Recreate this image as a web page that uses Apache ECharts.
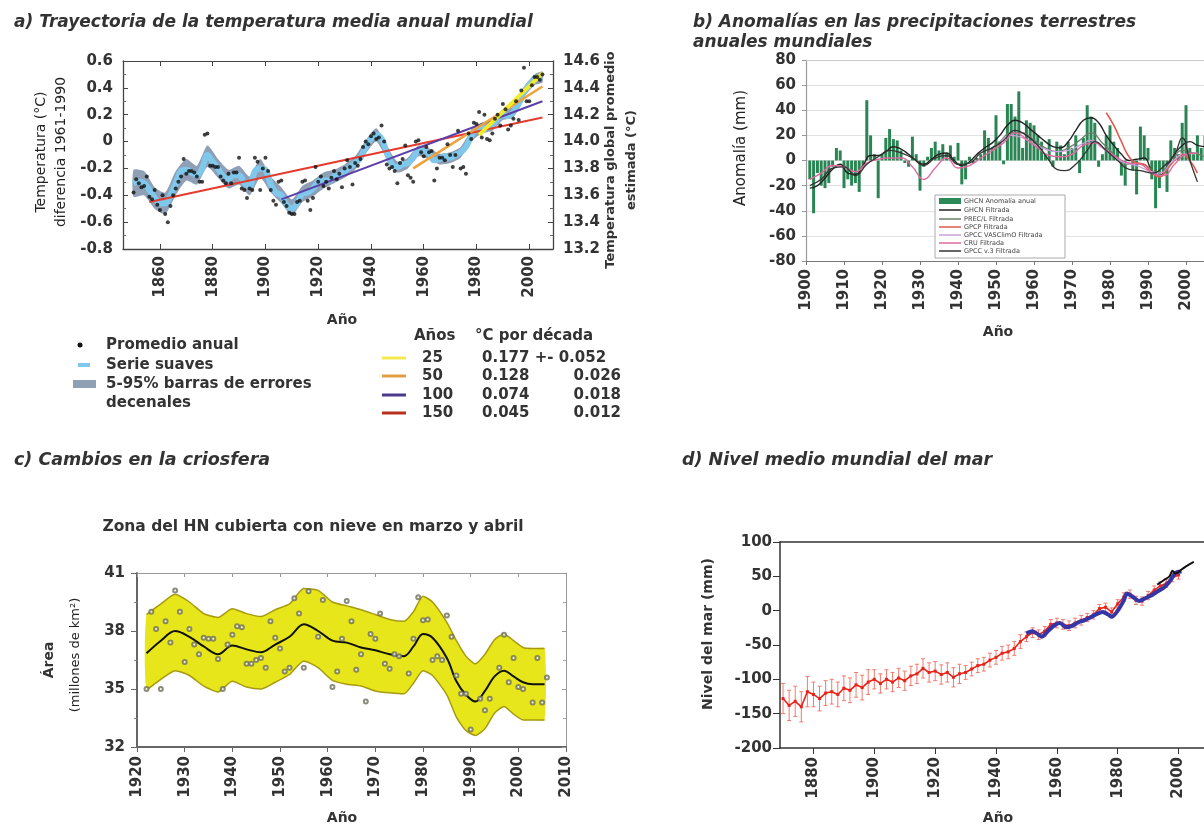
<!DOCTYPE html>
<html><head><meta charset="utf-8">
<script src="https://cdn.jsdelivr.net/npm/echarts@6/dist/echarts.min.js"></script>
<style>html,body{margin:0;padding:0;background:#fff;overflow:hidden}#c{width:1204px;height:826px}</style>
</head><body><div id="c"></div><script>
// ---------- a) temperature ----------
const tempStartYear = 1850;
const tempAnnual = [
-0.38,-0.28,-0.31,-0.34,-0.33,-0.26,-0.41,-0.43,-0.36,-0.47,
-0.51,-0.40,-0.54,-0.60,-0.48,-0.40,-0.35,-0.30,-0.26,-0.13,
-0.24,-0.22,-0.22,-0.23,-0.26,-0.30,-0.30,0.05,0.06,-0.18,
-0.18,-0.19,-0.19,-0.26,-0.29,-0.31,-0.24,-0.31,-0.23,-0.23,
-0.12,-0.35,-0.36,-0.42,-0.35,-0.36,-0.12,-0.15,-0.36,-0.20,
-0.12,-0.22,-0.36,-0.44,-0.47,-0.30,-0.29,-0.45,-0.48,-0.53,
-0.54,-0.54,-0.45,-0.44,-0.30,-0.29,-0.44,-0.51,-0.42,-0.19,
-0.30,-0.26,-0.33,-0.30,-0.35,-0.27,-0.22,-0.28,-0.24,-0.34,
-0.20,-0.14,-0.19,-0.32,-0.16,-0.18,-0.13,-0.04,0.00,-0.02,
0.04,0.06,0.02,0.03,0.12,0.00,-0.17,-0.20,-0.19,-0.22,
-0.31,-0.16,-0.13,-0.03,-0.25,-0.27,-0.30,0.00,0.01,-0.08,
-0.11,-0.04,-0.08,-0.07,-0.29,-0.20,-0.12,-0.12,-0.14,-0.02,
-0.10,-0.19,-0.10,0.08,-0.20,-0.19,-0.24,0.06,0.02,0.14,
0.13,0.22,0.03,0.20,0.02,0.01,0.06,0.17,0.20,0.12,
0.28,0.24,0.09,0.12,0.17,0.30,0.16,0.38,0.55,0.30,
0.30,0.42,0.48,0.48,0.46,0.50];
const tempSmoothYears = [1850,1852,1854,1856,1858,1860,1862,1864,1866,1868,1870,1872,1874,1876,1878,1880,1882,1884,1886,1888,1890,1892,1894,1896,1898,1900,1902,1904,1906,1908,1910,1912,1914,1916,1918,1920,1922,1924,1926,1928,1930,1932,1934,1936,1938,1940,1942,1944,1946,1948,1950,1952,1954,1956,1958,1960,1962,1964,1966,1968,1970,1972,1974,1976,1978,1980,1982,1984,1986,1988,1990,1992,1994,1996,1998,2000,2002,2004,2005];
const tempSmooth = [-0.31,-0.30,-0.31,-0.36,-0.42,-0.46,-0.46,-0.40,-0.31,-0.22,-0.21,-0.23,-0.25,-0.20,-0.10,-0.15,-0.20,-0.26,-0.28,-0.25,-0.25,-0.31,-0.33,-0.22,-0.20,-0.21,-0.32,-0.38,-0.40,-0.47,-0.50,-0.46,-0.39,-0.38,-0.35,-0.30,-0.29,-0.29,-0.26,-0.25,-0.22,-0.19,-0.16,-0.12,-0.04,0.02,0.05,0.02,-0.08,-0.17,-0.19,-0.17,-0.16,-0.12,-0.07,-0.07,-0.09,-0.14,-0.13,-0.11,-0.12,-0.10,-0.08,-0.04,0.04,0.10,0.10,0.10,0.12,0.17,0.20,0.19,0.22,0.28,0.37,0.42,0.46,0.48,0.48];
const tempBandYears = [1850,1854,1858,1862,1866,1870,1874,1878,1882,1886,1890,1894,1898,1902,1906,1910,1914,1918,1922,1926,1930,1934,1938,1942,1946,1950,1954,1958,1962,1966,1970,1974,1978,1982,1986,1990,1994,1998,2002,2005];
const tempBandLow  = [-0.41,-0.40,-0.50,-0.54,-0.40,-0.29,-0.32,-0.19,-0.27,-0.35,-0.32,-0.40,-0.27,-0.38,-0.46,-0.55,-0.45,-0.41,-0.35,-0.31,-0.27,-0.21,-0.09,0.00,-0.13,-0.23,-0.20,-0.11,-0.13,-0.17,-0.16,-0.12,0.00,0.06,0.08,0.16,0.18,0.33,0.42,0.44];
const tempBandHigh = [-0.21,-0.22,-0.34,-0.38,-0.22,-0.13,-0.18,-0.03,-0.13,-0.21,-0.18,-0.26,-0.13,-0.26,-0.34,-0.43,-0.33,-0.29,-0.23,-0.21,-0.17,-0.11,0.01,0.10,-0.03,-0.15,-0.12,-0.03,-0.05,-0.09,-0.08,-0.04,0.08,0.14,0.16,0.24,0.26,0.41,0.50,0.52];
const trend150 = [[1856,-0.45],[2005,0.18]];
const trend100 = [[1906,-0.43],[2005,0.30]];
const trend50  = [[1956,-0.20],[2005,0.41]];
const trend25  = [[1981,0.05],[2005,0.51]];
const tempYearTicks = [1860,1880,1900,1920,1940,1960,1980,2000];
const trendTable = [['25','0.177 +- 0.052',''],['50','0.128','0.026'],['100','0.074','0.018'],['150','0.045','0.012']];

// ---------- b) precipitation ----------
const precipStartYear = 1901;
const precipAnom = [-15,-42,-10,-20,-22,-18,-5,10,8,-22,
-15,-20,-18,-25,-5,48,20,5,-30,5,
18,25,17,16,8,-2,-5,19,5,-24,
-5,3,10,15,8,13,6,12,3,14,
-19,-15,3,-2,2,5,24,18,10,36,
15,-3,45,45,35,55,10,32,30,28,
20,15,5,17,-5,15,12,5,15,10,
20,-10,18,44,35,30,-5,5,20,28,
15,10,-12,-20,0,-8,-27,27,20,10,
-15,-38,-22,-10,-25,16,10,5,30,44,
10,5,20,10,20];
const ghcnFilt = [[1901,-22],[1903,-20],[1905,-14],[1907,-7],[1909,-3],[1911,-10],[1913,-11],[1915,-4],[1917,4],[1919,4],[1921,7],[1923,11],[1925,9],[1927,5],[1929,0],[1931,-3],[1933,1],[1935,5],[1937,6],[1939,0],[1941,-4],[1943,-1],[1945,5],[1947,10],[1949,14],[1951,20],[1953,28],[1955,32],[1957,30],[1959,25],[1961,20],[1963,15],[1965,11],[1967,10],[1969,15],[1971,24],[1973,32],[1975,34],[1977,30],[1979,20],[1981,12],[1983,5],[1985,0],[1987,1],[1989,2],[1991,-8],[1993,-12],[1995,-5],[1997,5],[1999,12],[2001,15],[2003,12],[2005,11]];
const precLFilt = [[1948,8],[1951,15],[1954,22],[1957,22],[1960,16],[1963,10],[1966,7],[1969,10],[1972,16],[1975,22],[1978,14],[1981,5],[1984,-3],[1987,-2],[1990,-5],[1993,-12],[1996,-3],[1999,8],[2002,6],[2005,3]];
const gpcpFilt = [[1979,38],[1981,28],[1983,15],[1985,3],[1987,-2],[1989,-3],[1991,-10],[1993,-13],[1995,-7],[1997,0],[1999,5],[2001,0],[2003,-10]];
const vasclimoFilt = [[1951,14],[1954,20],[1957,18],[1960,13],[1963,9],[1966,7],[1969,8],[1972,12],[1975,16],[1978,10],[1981,3],[1984,-2],[1987,-4],[1990,-8],[1993,-10],[1996,-2],[1999,6]];
const cruFilt = [[1901,-15],[1904,-10],[1907,-4],[1910,-5],[1913,-9],[1916,-2],[1919,1],[1922,2],[1925,2],[1928,-5],[1931,-15],[1934,-6],[1937,2],[1940,-6],[1943,-4],[1946,2],[1949,8],[1952,14],[1955,22],[1958,17],[1961,10],[1964,4],[1967,3],[1970,5],[1973,12],[1976,14],[1979,8],[1982,2],[1985,-2],[1988,-3],[1991,-10],[1994,-12],[1997,-3],[2000,5],[2003,6]];
const gpccV3Filt = [[1901,-20],[1904,-15],[1907,-6],[1910,-5],[1913,-12],[1916,-3],[1919,3],[1922,8],[1925,6],[1928,2],[1931,-4],[1934,2],[1937,4],[1940,-3],[1943,-2],[1946,6],[1949,10],[1952,16],[1955,24],[1958,20],[1961,12],[1964,0],[1966,-7],[1968,-8],[1971,-3],[1974,8],[1976,15],[1979,8],[1982,0],[1985,-7],[1988,-8],[1991,-10],[1994,-5],[1997,5],[1999,18],[2001,0],[2003,-17]];
const precipLegend = ['GHCN Anomalía anual','GHCN Filtrada','PREC/L Filtrada','GPCP Filtrada','GPCC VASClimO Filtrada','CRU Filtrada','GPCC v.3 Filtrada'];

// ---------- c) snow cover ----------
const snowYears = [1922,1923,1924,1925,1926,1927,1928,1929,1930,1931,1932,1933,1934,1935,1936,1937,1938,1939,1940,1941,1942,1943,1944,1945,1946,1947,1948,1949,1950,1951,1952,1953,1954,1955,1956,1958,1959,1961,1962,1963,1964,1965,1966,1967,1968,1969,1970,1971,1972,1973,1974,1975,1977,1978,1979,1980,1981,1982,1983,1984,1985,1986,1987,1988,1989,1990,1992,1993,1994,1996,1997,1998,1999,2000,2001,2003,2004,2005,2006];
const snowArea  = [35.0,39.0,38.1,35.0,38.5,37.4,40.1,39.0,36.4,38.1,37.3,36.8,37.65,37.6,37.6,36.55,35.0,37.3,37.8,38.25,38.2,36.3,36.3,36.5,36.6,36.1,38.5,37.65,37.1,35.9,36.1,39.7,38.9,36.1,40.05,37.7,39.6,35.1,35.9,37.6,39.55,38.5,36.0,36.8,34.35,37.85,37.6,38.9,36.3,36.05,36.8,36.7,35.8,37.6,39.75,38.55,38.6,36.5,36.7,36.5,38.8,37.7,35.7,34.75,34.75,32.9,34.5,33.9,34.5,36.1,37.8,35.35,36.6,35.1,35.0,34.3,36.6,34.3,35.6];
const snowSmoothYears = [1922,1925,1928,1931,1934,1937,1940,1943,1946,1949,1952,1955,1958,1961,1964,1967,1970,1973,1976,1978,1980,1982,1985,1987,1989,1991,1993,1995,1997,1999,2001,2003,2005.5];
const snowSmooth = [36.85,37.5,38.0,37.7,37.2,36.8,37.25,37.05,36.9,37.3,37.7,38.35,38.0,37.5,37.4,37.15,37.0,36.8,36.7,37.2,37.85,37.65,36.6,35.4,34.7,34.35,34.9,35.65,35.95,35.65,35.35,35.25,35.25];
const snowHigh = [38.85,39.4,39.9,39.5,38.9,38.7,39.15,38.9,38.75,39.1,39.4,40.2,40.1,39.5,39.3,39.1,38.85,38.6,38.5,39.0,39.8,39.5,38.45,37.5,36.7,36.3,36.8,37.55,37.85,37.5,37.15,37.1,37.1];
const snowLow  = [34.95,35.5,35.95,35.7,35.15,34.85,35.4,35.1,35.0,35.35,35.75,36.45,36.1,35.45,35.25,35.15,34.9,34.8,34.75,35.3,35.95,35.7,34.7,33.55,32.85,32.6,32.95,33.75,34.1,33.7,33.4,33.4,33.4];

// ---------- d) sea level ----------
const seaYears = [1870,1872,1874,1876,1878,1880,1882,1884,1886,1888,1890,1892,1894,1896,1898,1900,1902,1904,1906,1908,1910,1912,1914,1916,1918,1920,1922,1924,1926,1928,1930,1932,1934,1936,1938,1940,1942,1944,1946,1948,1950,1952,1954,1956,1958,1960,1962,1964,1966,1968,1970,1972,1974,1976,1978,1980,1982,1984,1986,1988,1990,1992,1994,1996,1998,2000];
const seaLevel = [-128,-138,-132,-140,-118,-122,-128,-120,-118,-122,-113,-116,-108,-112,-104,-100,-106,-100,-104,-98,-102,-95,-92,-84,-90,-88,-93,-90,-97,-92,-90,-85,-80,-78,-72,-68,-62,-60,-55,-45,-38,-32,-35,-30,-20,-18,-20,-22,-18,-14,-10,-6,3,5,-2,10,20,24,15,14,22,30,36,40,48,52];
const seaErr = [22,22,22,22,22,18,18,18,18,18,18,18,18,18,18,14,14,14,14,14,14,14,14,14,14,14,14,14,14,14,10,10,10,10,10,10,10,10,10,10,7,7,7,7,7,7,7,7,7,7,6,6,6,6,6,6,6,6,6,6,6,6,6,6,6,6];
const tideGauge = [[1950,-33],[1952,-30],[1954,-35],[1955,-38],[1957,-30],[1959,-22],[1961,-18],[1963,-24],[1965,-22],[1967,-17],[1969,-14],[1971,-10],[1973,-5],[1975,-2],[1977,-6],[1978,-9],[1980,0],[1982,15],[1983,25],[1985,20],[1987,14],[1989,18],[1991,22],[1993,28],[1995,33],[1997,42],[1999,55],[2001,57]];
const satellite = [[1993,38],[1995,44],[1997,50],[1998,58],[1999,54],[2001,60],[2003,66],[2005,71]];
const seaYearTicks = [1880,1900,1920,1940,1960,1980,2000];

// ---------- build ----------
const FF = 'DejaVu Sans';
const tickFont = {fontFamily: FF, fontWeight: 'bold', fontSize: 15, color: '#333'};
const yearFmt = v => String(Math.round(v));
const tempDots = tempAnnual.map((v, i) => [tempStartYear + i, v]);
const tempSm = tempSmoothYears.map((y, i) => [y, tempSmooth[i]]);
const tempBand = tempBandYears.map((y, i) => [y, tempBandLow[i], tempBandHigh[i]]);
const precipBars = precipAnom.map((v, i) => [precipStartYear + i, v]);
const snowPts = snowYears.map((y, i) => [y, snowArea[i]]);
const snowSm = snowSmoothYears.map((y, i) => [y, snowSmooth[i]]);
const snowLo = snowSmoothYears.map((y, i) => [y, snowLow[i]]);
const snowHi = snowSmoothYears.map((y, i) => [y, snowHigh[i]]);
const snowBand = snowSmoothYears.map((y, i) => [y, snowLow[i], snowHigh[i]]);
const seaLine = seaYears.map((y, i) => [y, seaLevel[i]]);
const seaBars = seaYears.map((y, i) => [y, seaLevel[i] - seaErr[i], seaLevel[i] + seaErr[i]]);

function bandSeries(xi, yi, rows, color, z) {
  return {type: 'custom', xAxisIndex: xi, yAxisIndex: yi, data: rows, encode: {x: 0, y: [1, 2]}, z: z,
    renderItem: function (params, api) {
      if (params.dataIndex !== 0) return null;
      const up = [], lo = [];
      rows.forEach(r => { lo.push(api.coord([r[0], r[1]])); up.push(api.coord([r[0], r[2]])); });
      return {type: 'polygon', shape: {points: lo.concat(up.reverse()), smooth: 0.2}, style: {fill: color}};
    }};
}

function T(x, y, text, size, o) {
  o = o || {};
  return {type: 'text', x: x, y: y, rotation: o.rot || 0, silent: true, z: 100,
    style: {text: text, fill: o.fill || '#333', fontSize: size, fontWeight: o.w || 'bold',
      fontStyle: o.it ? 'italic' : 'normal', fontFamily: o.ff || FF,
      align: o.align || 'left', verticalAlign: o.va || 'middle'}};
}
const R90 = Math.PI / 2;
const graphics = [
  T(14, 23, 'a) Trayectoria de la temperatura media anual mundial', 17, {it: true}),
  T(693, 23, 'b) Anomalías en las precipitaciones terrestres', 17, {it: true}),
  T(693, 43, 'anuales mundiales', 17, {it: true}),
  T(14, 460, 'c) Cambios en la criosfera', 17.5, {it: true}),
  T(682, 460, 'd) Nivel medio mundial del mar', 17.5, {it: true}),
  T(313, 527, 'Zona del HN cubierta con nieve en marzo y abril', 15.5, {align: 'center'}),
  T(342, 320, 'Año', 14, {align: 'center'}),
  T(998, 332, 'Año', 14, {align: 'center'}),
  T(342, 818, 'Año', 14, {align: 'center'}),
  T(998, 818, 'Año', 14, {align: 'center'}),
  T(41, 152, 'Temperatura (°C)', 14, {rot: R90, align: 'center', w: 'normal', fill: '#222'}),
  T(61, 152, 'diferencia 1961-1990', 14, {rot: R90, align: 'center', w: 'normal', fill: '#222'}),
  T(611, 160, 'Temperatura global promedio', 13, {rot: R90, align: 'center'}),
  T(632, 160, 'estimada (°C)', 13, {rot: R90, align: 'center'}),
  T(741, 148, 'Anomalía (mm)', 15, {rot: R90, align: 'center', w: 'normal', fill: '#222'}),
  T(49, 660, 'Área', 14, {rot: R90, align: 'center'}),
  T(76, 655, '(millones de km²)', 13, {rot: R90, align: 'center', w: 'normal', fill: '#222'}),
  T(708, 634, 'Nivel del mar (mm)', 14, {rot: R90, align: 'center'}),
  // legend a
  {type: 'circle', shape: {cx: 80, cy: 345, r: 2.5}, style: {fill: '#111'}, silent: true},
  {type: 'rect', shape: {x: 78, y: 363, width: 12, height: 4}, style: {fill: '#7fc8ec'}, silent: true},
  {type: 'rect', shape: {x: 73, y: 380, width: 23, height: 8}, style: {fill: '#8e9fb6'}, silent: true},
  T(106, 345, 'Promedio anual', 15),
  T(106, 365, 'Serie suaves', 15),
  T(106, 384, '5-95% barras de errores', 15),
  T(106, 403, 'decenales', 15),
  T(414, 336, 'Años', 15),
  T(475, 336, '°C por década', 15),
];
const tableColors = ['#f4ea50', '#e0a040', '#4b3a8c', '#b8301e'];
const tableY = [358, 376, 395, 413];
trendTable.forEach((r, i) => {
  graphics.push({type: 'line', shape: {x1: 382, y1: tableY[i], x2: 406, y2: tableY[i]}, style: {stroke: tableColors[i], lineWidth: 3}, silent: true});
  graphics.push(T(422, tableY[i], r[0], 15));
  graphics.push(T(482, tableY[i], r[1], 15));
  if (r[2]) graphics.push(T(621, tableY[i], r[2], 15, {align: 'right'}));
});
// legend b
graphics.push({type: 'rect', shape: {x: 935, y: 195, width: 130, height: 63}, style: {fill: '#fff', stroke: '#aaa', lineWidth: 1}, z: 90, silent: true});
const legColors = ['#2b8a57', '#222', '#6a7f6a', '#e05a50', '#c9a0d8', '#e06aa0', '#333'];
const legY = [201, 210, 219, 227, 235, 243, 251];
precipLegend.forEach((n, i) => {
  if (i === 0) graphics.push({type: 'rect', shape: {x: 939, y: legY[i] - 3, width: 22, height: 6}, style: {fill: legColors[i]}, z: 95, silent: true});
  else graphics.push({type: 'line', shape: {x1: 939, y1: legY[i], x2: 961, y2: legY[i]}, style: {stroke: legColors[i], lineWidth: 1.5}, z: 95, silent: true});
  graphics.push(T(964, legY[i], n, 6.5, {w: 'normal', fill: '#444'}));
});

const axLine = (c, w) => ({show: true, onZero: false, lineStyle: {color: c, width: w}});
const tempFmt = v => Math.abs(v) < 1e-9 ? '0' : v.toFixed(1);

const option = {
  animation: false,
  backgroundColor: '#fff',
  grid: [
    {left: 123, top: 61, right: 651, bottom: 577, outerBoundsMode: 'none'},
    {left: 806, top: 60, right: -20, bottom: 565, outerBoundsMode: 'none'},
    {left: 137, top: 573, right: 638, bottom: 79, outerBoundsMode: 'none'},
    {left: 780, top: 542, right: -5, bottom: 78, outerBoundsMode: 'none'}
  ],
  xAxis: [
    {gridIndex: 0, type: 'value', min: 1846, max: 2009, axisLine: axLine('#444', 1.3),
     axisTick: {inside: true, length: 5, customValues: tempYearTicks, lineStyle: {color: '#444'}},
     axisLabel: Object.assign({customValues: tempYearTicks, rotate: 90, margin: 7, formatter: yearFmt}, tickFont), splitLine: {show: false}},
    {gridIndex: 0, type: 'value', position: 'top', min: 1846, max: 2009, axisLine: axLine('#444', 1),
     axisTick: {inside: true, length: 5, customValues: tempYearTicks, lineStyle: {color: '#444'}}, axisLabel: {show: false}, splitLine: {show: false}},
    {gridIndex: 1, type: 'value', min: 1900, max: 2010, interval: 10, axisLine: axLine('#777', 1.2),
     axisTick: {length: 4, lineStyle: {color: '#777'}}, axisLabel: Object.assign({rotate: 90, margin: 8, formatter: yearFmt}, tickFont), splitLine: {show: false}},
    {gridIndex: 1, type: 'value', position: 'top', min: 1900, max: 2010, axisLine: axLine('#ccc', 1),
     axisTick: {show: false}, axisLabel: {show: false}, splitLine: {show: false}},
    {gridIndex: 2, type: 'value', min: 1920, max: 2010, interval: 10, axisLine: axLine('#666', 2),
     axisTick: {length: 5, lineStyle: {color: '#666'}}, axisLabel: Object.assign({rotate: 90, margin: 9, formatter: yearFmt}, tickFont), splitLine: {show: false}},
    {gridIndex: 2, type: 'value', position: 'top', min: 1920, max: 2010, interval: 10, axisLine: axLine('#999', 1),
     axisTick: {inside: true, length: 4, lineStyle: {color: '#999'}}, axisLabel: {show: false}, splitLine: {show: false}},
    {gridIndex: 3, type: 'value', min: 1869, max: 2010, axisLine: axLine('#333', 1.5),
     axisTick: {length: 6, customValues: seaYearTicks, lineStyle: {color: '#333'}},
     axisLabel: Object.assign({customValues: seaYearTicks, rotate: 90, margin: 9, formatter: yearFmt}, tickFont), splitLine: {show: false}},
    {gridIndex: 3, type: 'value', position: 'top', min: 1869, max: 2010, axisLine: axLine('#333', 1.5),
     axisTick: {show: false}, axisLabel: {show: false}, splitLine: {show: false}}
  ],
  yAxis: [
    {gridIndex: 0, type: 'value', min: -0.8, max: 0.6, interval: 0.2, axisLine: axLine('#444', 1.3),
     axisTick: {inside: true, length: 5, lineStyle: {color: '#444'}}, minorTick: {show: true, splitNumber: 2, length: 3, lineStyle: {color: '#666'}},
     axisLabel: Object.assign({formatter: tempFmt, margin: 10}, tickFont), splitLine: {show: false}},
    {gridIndex: 0, type: 'value', position: 'right', min: 13.2, max: 14.6, interval: 0.2, axisLine: axLine('#444', 1.3),
     axisTick: {inside: true, length: 5, lineStyle: {color: '#444'}}, minorTick: {show: true, splitNumber: 2, length: 3, lineStyle: {color: '#666'}},
     axisLabel: Object.assign({formatter: v => v.toFixed(1), margin: 10}, tickFont), splitLine: {show: false}},
    {gridIndex: 1, type: 'value', min: -80, max: 80, interval: 20, axisLine: axLine('#999', 1.2),
     axisTick: {length: 4, lineStyle: {color: '#999'}}, axisLabel: Object.assign({margin: 10}, tickFont),
     splitLine: {show: true, lineStyle: {color: '#e2e2e2', width: 1}}},
    {gridIndex: 2, type: 'value', min: 32, max: 41, interval: 3, axisLine: axLine('#666', 2),
     axisTick: {length: 6, lineStyle: {color: '#666'}}, minorTick: {show: true, splitNumber: 2, length: 3, lineStyle: {color: '#888'}},
     axisLabel: Object.assign({margin: 12}, tickFont), splitLine: {show: false}},
    {gridIndex: 2, type: 'value', position: 'right', min: 32, max: 41, interval: 3, axisLine: axLine('#999', 1),
     axisTick: {inside: true, length: 4, lineStyle: {color: '#999'}}, minorTick: {show: true, splitNumber: 2, length: 3, lineStyle: {color: '#aaa'}},
     axisLabel: {show: false}, splitLine: {show: false}},
    {gridIndex: 3, type: 'value', min: -200, max: 100, interval: 50, axisLine: axLine('#333', 1.5),
     axisTick: {length: 7, lineStyle: {color: '#333'}}, axisLabel: Object.assign({margin: 8}, tickFont), splitLine: {show: false}}
  ],
  graphic: graphics,
  series: [
    // a
    bandSeries(0, 0, tempBand, '#8e9fb6', 1),
    {type: 'line', xAxisIndex: 0, yAxisIndex: 0, data: tempSm, smooth: 0.4, symbol: 'none', lineStyle: {color: '#7fc8ec', width: 6}, z: 2},
    {type: 'line', xAxisIndex: 0, yAxisIndex: 0, data: trend150, symbol: 'none', lineStyle: {color: '#e33b2e', width: 2}, z: 3},
    {type: 'line', xAxisIndex: 0, yAxisIndex: 0, data: trend100, symbol: 'none', lineStyle: {color: '#5d3fa8', width: 2}, z: 3},
    {type: 'line', xAxisIndex: 0, yAxisIndex: 0, data: trend50, symbol: 'none', lineStyle: {color: '#eea23a', width: 2.5}, z: 3},
    {type: 'line', xAxisIndex: 0, yAxisIndex: 0, data: trend25, symbol: 'none', lineStyle: {color: '#f3ea2a', width: 4}, z: 3},
    {type: 'scatter', xAxisIndex: 0, yAxisIndex: 0, data: tempDots, symbolSize: 4, itemStyle: {color: '#111'}, z: 4},
    // b
    {type: 'bar', name: precipLegend[0], xAxisIndex: 2, yAxisIndex: 2, data: precipBars, barWidth: 3, itemStyle: {color: '#2b8454'}, z: 2},
    {type: 'line', name: precipLegend[1], xAxisIndex: 2, yAxisIndex: 2, data: ghcnFilt, smooth: 0.5, symbol: 'none', lineStyle: {color: '#222', width: 1.4}, z: 3},
    {type: 'line', name: precipLegend[2], xAxisIndex: 2, yAxisIndex: 2, data: precLFilt, smooth: 0.5, symbol: 'none', lineStyle: {color: '#6a7f6a', width: 1.3}, z: 3},
    {type: 'line', name: precipLegend[3], xAxisIndex: 2, yAxisIndex: 2, data: gpcpFilt, smooth: 0.5, symbol: 'none', lineStyle: {color: '#e05a50', width: 1.6}, z: 3},
    {type: 'line', name: precipLegend[4], xAxisIndex: 2, yAxisIndex: 2, data: vasclimoFilt, smooth: 0.5, symbol: 'none', lineStyle: {color: '#c9a0d8', width: 1.3}, z: 3},
    {type: 'line', name: precipLegend[5], xAxisIndex: 2, yAxisIndex: 2, data: cruFilt, smooth: 0.5, symbol: 'none', lineStyle: {color: '#e06aa0', width: 1.4}, z: 3},
    {type: 'line', name: precipLegend[6], xAxisIndex: 2, yAxisIndex: 2, data: gpccV3Filt, smooth: 0.5, symbol: 'none', lineStyle: {color: '#333', width: 1.3}, z: 3},
    // c
    bandSeries(4, 3, snowBand, '#e6e61a', 1),
    {type: 'line', xAxisIndex: 4, yAxisIndex: 3, data: snowHi, smooth: 0.2, symbol: 'none', lineStyle: {color: '#a89a10', width: 1.5}, z: 2},
    {type: 'line', xAxisIndex: 4, yAxisIndex: 3, data: snowLo, smooth: 0.2, symbol: 'none', lineStyle: {color: '#a89a10', width: 1.5}, z: 2},
    {type: 'line', xAxisIndex: 4, yAxisIndex: 3, data: snowSm, smooth: 0.35, symbol: 'none', lineStyle: {color: '#111', width: 2}, z: 3},
    {type: 'scatter', xAxisIndex: 4, yAxisIndex: 3, data: snowPts, symbol: 'emptyCircle', symbolSize: 4, itemStyle: {color: '#6f6f5a', borderWidth: 0.9}, z: 4},
    // d
    {type: 'custom', xAxisIndex: 6, yAxisIndex: 5, data: seaBars, encode: {x: 0, y: [1, 2]}, z: 1,
     renderItem: function (params, api) {
       const x = api.value(0), p1 = api.coord([x, api.value(1)]), p2 = api.coord([x, api.value(2)]);
       const st = {stroke: '#f07a6e', lineWidth: 1};
       return {type: 'group', children: [
         {type: 'line', shape: {x1: p1[0], y1: p1[1], x2: p2[0], y2: p2[1]}, style: st},
         {type: 'line', shape: {x1: p1[0] - 2, y1: p1[1], x2: p1[0] + 2, y2: p1[1]}, style: st},
         {type: 'line', shape: {x1: p2[0] - 2, y1: p2[1], x2: p2[0] + 2, y2: p2[1]}, style: st}
       ]};
     }},
    {type: 'line', xAxisIndex: 6, yAxisIndex: 5, data: seaLine, symbol: 'rect', symbolSize: 3, itemStyle: {color: '#e8231a'}, lineStyle: {color: '#e8231a', width: 1.6}, z: 2},
    {type: 'line', xAxisIndex: 6, yAxisIndex: 5, data: tideGauge, smooth: 0.3, symbol: 'none', lineStyle: {color: '#3535a5', width: 4}, z: 3},
    {type: 'line', xAxisIndex: 6, yAxisIndex: 5, data: satellite, smooth: 0.3, symbol: 'none', lineStyle: {color: '#111', width: 2}, z: 4}
  ]
};
const chart = echarts.init(document.getElementById('c'));
chart.setOption(option);
</script></body></html>
